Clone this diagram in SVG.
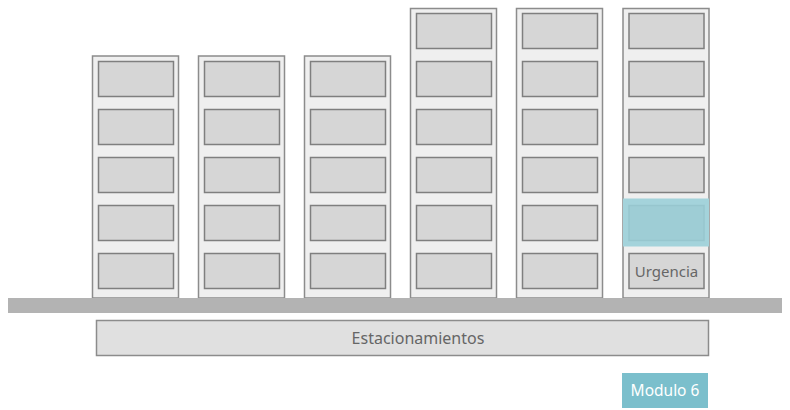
<svg xmlns="http://www.w3.org/2000/svg" width="790" height="410" viewBox="0 0 790 410">
<defs>
<style>
.bld{fill:#efefef;stroke:#8c8c8c;stroke-width:1.5}
.fl{fill:#d6d6d6;stroke:#7f7f7f;stroke-width:1.5}
.hl{fill:#a4d3db}
.hlf{fill:#9ecdd5;stroke:#97c6ce;stroke-width:1.5}
.lbl{font-family:"Noto Sans","Liberation Sans",sans-serif;font-size:16px;fill:#666666;text-anchor:middle}
</style>
</defs>
<rect x="0" y="0" width="790" height="410" fill="#ffffff"/>
<g id="building1">
<rect class="bld" x="92.5" y="56" width="86" height="242"/>
<rect class="fl" x="98.5" y="61.5" width="75" height="35"/>
<rect class="fl" x="98.5" y="109.5" width="75" height="35"/>
<rect class="fl" x="98.5" y="157.5" width="75" height="35"/>
<rect class="fl" x="98.5" y="205.5" width="75" height="35"/>
<rect class="fl" x="98.5" y="253.5" width="75" height="35"/>
</g>
<g id="building2">
<rect class="bld" x="198.5" y="56" width="86" height="242"/>
<rect class="fl" x="204.5" y="61.5" width="75" height="35"/>
<rect class="fl" x="204.5" y="109.5" width="75" height="35"/>
<rect class="fl" x="204.5" y="157.5" width="75" height="35"/>
<rect class="fl" x="204.5" y="205.5" width="75" height="35"/>
<rect class="fl" x="204.5" y="253.5" width="75" height="35"/>
</g>
<g id="building3">
<rect class="bld" x="304.5" y="56" width="86" height="242"/>
<rect class="fl" x="310.5" y="61.5" width="75" height="35"/>
<rect class="fl" x="310.5" y="109.5" width="75" height="35"/>
<rect class="fl" x="310.5" y="157.5" width="75" height="35"/>
<rect class="fl" x="310.5" y="205.5" width="75" height="35"/>
<rect class="fl" x="310.5" y="253.5" width="75" height="35"/>
</g>
<g id="building4">
<rect class="bld" x="410.5" y="8.5" width="86" height="289.5"/>
<rect class="fl" x="416.5" y="13.5" width="75" height="35"/>
<rect class="fl" x="416.5" y="61.5" width="75" height="35"/>
<rect class="fl" x="416.5" y="109.5" width="75" height="35"/>
<rect class="fl" x="416.5" y="157.5" width="75" height="35"/>
<rect class="fl" x="416.5" y="205.5" width="75" height="35"/>
<rect class="fl" x="416.5" y="253.5" width="75" height="35"/>
</g>
<g id="building5">
<rect class="bld" x="516.5" y="8.5" width="86" height="289.5"/>
<rect class="fl" x="522.5" y="13.5" width="75" height="35"/>
<rect class="fl" x="522.5" y="61.5" width="75" height="35"/>
<rect class="fl" x="522.5" y="109.5" width="75" height="35"/>
<rect class="fl" x="522.5" y="157.5" width="75" height="35"/>
<rect class="fl" x="522.5" y="205.5" width="75" height="35"/>
<rect class="fl" x="522.5" y="253.5" width="75" height="35"/>
</g>
<g id="building6">
<rect class="bld" x="623" y="8.5" width="86" height="289.5"/>
<rect class="fl" x="629" y="13.5" width="75" height="35"/>
<rect class="fl" x="629" y="61.5" width="75" height="35"/>
<rect class="fl" x="629" y="109.5" width="75" height="35"/>
<rect class="fl" x="629" y="157.5" width="75" height="35"/>
<rect class="hl" x="623" y="198.5" width="86" height="48"/>
<rect class="hlf" x="629" y="205.5" width="75" height="35"/>
<rect class="fl" x="629" y="253.5" width="75" height="35"/>
<text class="lbl" x="666.5" y="276.5" style="font-size:15px">Urgencia</text>
</g>
<g id="road">
<rect x="8" y="298" width="774" height="15" fill="#b3b3b3"/>
</g>
<g id="parking">
<rect x="96.5" y="320.5" width="612" height="35" fill="#e0e0e0" stroke="#8c8c8c" stroke-width="1.5"/>
<text class="lbl" x="418" y="344">Estacionamientos</text>
</g>
<g id="modulo">
<rect x="622" y="373" width="86" height="35" fill="#7bbfcc"/>
<text x="665" y="396" font-family="Noto Sans, Liberation Sans, sans-serif" font-size="15.5" fill="#ffffff" text-anchor="middle">Modulo 6</text>
</g>
<g id="connectors"/>
</svg>
